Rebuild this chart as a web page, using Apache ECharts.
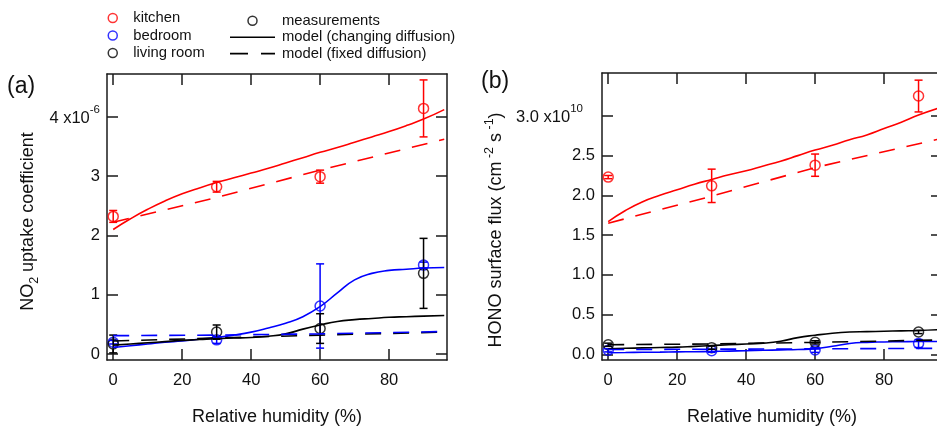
<!DOCTYPE html>
<html><head><meta charset="utf-8">
<script src="https://cdn.jsdelivr.net/npm/echarts@6/dist/echarts.min.js"></script>
<style>html,body{margin:0;padding:0;background:#fff}#c{width:937px;height:427px}</style>
</head><body><div id="c"></div>
<script>
// ---- measurements: relative humidity (%) ----
const rhMeas = [0, 30, 60, 90];
// (a) NO2 uptake coefficient, units of 1e-6
const gammaKitchen    = [2.32, 2.82, 2.99, 4.14];
const gammaKitchenErr = [0.10, 0.09, 0.11, 0.48];
const gammaBedroom    = [0.20, 0.24, 0.81, 1.50];
const gammaBedroomErr = [0.03, 0.06, 0.71, 0.05];
const gammaLiving     = [0.17, 0.37, 0.43, 1.36];
const gammaLivingErr  = [0.15, 0.12, 0.25, 0.59];
// (b) HONO surface flux, units of 1e10 cm^-2 s^-1
const fluxKitchen    = [2.23, 2.12, 2.38, 3.25];
const fluxKitchenErr = [0.02, 0.21, 0.14, 0.20];
const fluxBedroom    = [0.05, 0.045, 0.054, 0.135];
const fluxBedroomErr = [0.02, 0.02, 0.03, 0.05];
const fluxLiving     = [0.12, 0.083, 0.15, 0.28];
const fluxLivingErr  = [0.02, 0.02, 0.02, 0.02];

// ---- model (changing diffusion) ----
const modelRH = [0, 5, 10, 15, 20, 25, 30, 35, 40, 45, 50, 55, 60, 65, 70, 75, 80, 85, 90, 96];
const gammaKitchenModel = [2.10, 2.28, 2.44, 2.58, 2.70, 2.80, 2.89, 2.97, 3.05, 3.13, 3.22, 3.31, 3.40, 3.48, 3.57, 3.66, 3.75, 3.85, 3.96, 4.12];
const gammaBedroomModel = [0.11, 0.14, 0.17, 0.20, 0.22, 0.25, 0.28, 0.32, 0.37, 0.44, 0.52, 0.63, 0.80, 1.03, 1.25, 1.36, 1.41, 1.43, 1.45, 1.46];
const gammaLivingModel  = [0.15, 0.17, 0.19, 0.21, 0.23, 0.245, 0.26, 0.27, 0.28, 0.30, 0.34, 0.42, 0.49, 0.55, 0.58, 0.60, 0.62, 0.63, 0.64, 0.65];
const fluxKitchenModel  = [1.67, 1.81, 1.92, 2.00, 2.07, 2.14, 2.20, 2.26, 2.31, 2.37, 2.43, 2.50, 2.57, 2.63, 2.70, 2.76, 2.84, 2.92, 3.01, 3.10];
const fluxBedroomModel  = [0.02, 0.022, 0.025, 0.027, 0.03, 0.032, 0.035, 0.04, 0.045, 0.05, 0.055, 0.06, 0.07, 0.10, 0.135, 0.15, 0.155, 0.158, 0.16, 0.16];
const fluxLivingModel   = [0.07, 0.075, 0.08, 0.085, 0.09, 0.10, 0.11, 0.12, 0.13, 0.14, 0.165, 0.21, 0.24, 0.265, 0.28, 0.285, 0.29, 0.295, 0.30, 0.31];

// ---- model (fixed diffusion) ----
const fixedRH = [0, 30, 60, 96];
const gammaKitchenFixed = [2.22, 2.64, 3.10, 3.62];
const gammaBedroomFixed = [0.31, 0.32, 0.34, 0.38];
const gammaLivingFixed  = [0.22, 0.27, 0.32, 0.37];
const fluxKitchenFixed  = [1.65, 1.99, 2.35, 2.71];
const fluxBedroomFixed  = [0.06, 0.064, 0.068, 0.075];
const fluxLivingFixed   = [0.12, 0.13, 0.15, 0.18];

// ---- ticks ----
const rhTicks = [0, 20, 40, 60, 80];
const gammaTicks = [0, 1, 2, 3, 4];
const fluxTicks = [0, 0.5, 1, 1.5, 2, 2.5, 3];

const RED = '#ff0000', BLUE = '#0000ff', BLACK = '#000000', AX = '#1a1a1a';
const FONT = 'Liberation Sans, Arial, sans-serif';
const TICK_FS = 16.5, NAME_FS = 18;

const pairs = (xs, ys) => xs.map((x, i) => [x, ys[i]]);
const errs = (ys, es) => rhMeas.map((x, i) => [x, ys[i] - es[i], ys[i] + es[i]]);

function errSeries(name, data, color, g) {
  return {
    type: 'custom', name: name + ' err', xAxisIndex: g * 2, yAxisIndex: g * 2, z: 4, clip: true,
    data: data, encode: { x: 0, y: [1, 2] },
    renderItem: function (params, api) {
      const x = api.value(0), lo = api.value(1), hi = api.value(2);
      const pHi = api.coord([x, hi]), pLo = api.coord([x, lo]);
      const w = 4;
      const st = { stroke: color, lineWidth: 1.5 };
      return { type: 'group', children: [
        { type: 'line', shape: { x1: pHi[0], y1: pHi[1], x2: pLo[0], y2: pLo[1] }, style: st },
        { type: 'line', shape: { x1: pHi[0] - w, y1: pHi[1], x2: pHi[0] + w, y2: pHi[1] }, style: st },
        { type: 'line', shape: { x1: pLo[0] - w, y1: pLo[1], x2: pLo[0] + w, y2: pLo[1] }, style: st }
      ]};
    }
  };
}
function measSeries(name, ys, color, g) {
  return {
    type: 'scatter', name: name, xAxisIndex: g * 2, yAxisIndex: g * 2, z: 3,
    symbol: 'circle', symbolSize: 10,
    itemStyle: { color: 'rgba(0,0,0,0)', borderColor: color, borderWidth: 1.5 },
    data: pairs(rhMeas, ys)
  };
}
function modelSeries(name, xs, ys, color, g, dashed) {
  return {
    type: 'line', name: name, xAxisIndex: g * 2, yAxisIndex: g * 2, z: 5,
    showSymbol: false, symbol: 'none', smooth: dashed ? false : 0.5,
    lineStyle: { color: color, width: 1.6, type: dashed ? [16, 12] : 'solid' },
    data: pairs(xs, ys), silent: true
  };
}

const gridA = { left: 107, top: 74, width: 340, height: 286, outerBoundsMode: 'none', containLabel: false };
const gridB = { left: 602, top: 73, width: 340, height: 287, outerBoundsMode: 'none', containLabel: false };

function xAxes(g) {
  const base = {
    type: 'value', gridIndex: g, min: -1.8, max: 96.8,
    splitLine: { show: false },
    axisLine: { show: true, onZero: false, lineStyle: { color: AX, width: 1.5 } },
    axisTick: { show: true, inside: true, length: 11, customValues: rhTicks, lineStyle: { color: AX, width: 1.5 } }
  };
  return [
    Object.assign({}, base, {
      position: 'bottom',
      axisLabel: { show: true, customValues: rhTicks, margin: 12, color: '#111', fontSize: TICK_FS, fontFamily: FONT },
      name: 'Relative humidity (%)', nameLocation: 'middle', nameGap: 48,
      nameTextStyle: { color: '#111', fontSize: NAME_FS, fontFamily: FONT }
    }),
    Object.assign({}, base, { position: 'top', axisLabel: { show: false } })
  ];
}
function yAxes(g, min, max, ticks, fmt, rich, name, nameRich, gap, shiftPad) {
  const base = {
    type: 'value', gridIndex: g, min: min, max: max,
    splitLine: { show: false },
    axisLine: { show: true, onZero: false, lineStyle: { color: AX, width: 1.5 } },
    axisTick: { show: true, inside: true, length: 11, customValues: ticks, lineStyle: { color: AX, width: 1.5 } }
  };
  return [
    Object.assign({}, base, {
      position: 'left',
      axisLabel: { show: true, customValues: ticks, margin: 7, formatter: fmt, rich: rich, color: '#111', fontSize: TICK_FS, fontFamily: FONT },
      name: name, nameLocation: 'middle', nameGap: gap, nameRotate: 90,
      nameTextStyle: { color: '#111', fontSize: NAME_FS, fontFamily: FONT, rich: nameRich, padding: [0, shiftPad, 0, 0] }
    }),
    Object.assign({}, base, { position: 'right', axisLabel: { show: false } })
  ];
}

const tickRich = {
  m: { fontSize: TICK_FS, fontFamily: FONT, color: '#111', verticalAlign: 'middle', padding: [3, 0, 0, 0] },
  s: { fontSize: 11.5, fontFamily: FONT, color: '#111', verticalAlign: 'middle', padding: [0, 0, 14, 0] },
  s2: { fontSize: 11.5, fontFamily: FONT, color: '#111', verticalAlign: 'middle', padding: [0, 12, 14, 0] }
};
const nameRichA = {
  m: { fontSize: NAME_FS, fontFamily: FONT, color: '#111', verticalAlign: 'middle' },
  sub: { fontSize: 12.5, fontFamily: FONT, color: '#111', verticalAlign: 'middle', padding: [12, 0, 0, 0] }
};
const nameRichB = {
  m: { fontSize: NAME_FS, fontFamily: FONT, color: '#111', verticalAlign: 'middle' },
  sup: { fontSize: 12.5, fontFamily: FONT, color: '#111', verticalAlign: 'middle', padding: [0, 0, 14, 0] }
};

const fmtA = v => v === 4 ? '{m|4 x10}{s|-6}' : '' + v;
const fmtB = v => v === 3 ? '{m|3.0 x10}{s2|10}' : v.toFixed(1);

const legendText = { color: '#111', fontSize: 14.8, fontFamily: FONT };
const circ = c => ({ color: 'rgba(0,0,0,0)', borderColor: c, borderWidth: 1.5 });

const option = {
  animation: false,
  backgroundColor: '#fff',
  title: [
    { text: '(a)', left: 7, top: 75, padding: 0, textStyle: { fontSize: 23, fontWeight: 'normal', color: '#111', fontFamily: FONT } },
    { text: '(b)', left: 481, top: 70, padding: 0, textStyle: { fontSize: 23, fontWeight: 'normal', color: '#111', fontFamily: FONT } }
  ],
  legend: [
    {
      orient: 'vertical', left: 107.5, top: 9.25, padding: 0, itemGap: 0, itemWidth: 31, itemHeight: 9,
      textStyle: Object.assign({ lineHeight: 17.5 }, legendText), selectedMode: false,
      data: [
        { name: 'kitchen', icon: 'circle', itemStyle: circ(RED) },
        { name: 'bedroom', icon: 'circle', itemStyle: circ(BLUE) },
        { name: 'living room', icon: 'circle', itemStyle: circ(BLACK) }
      ]
    },
    {
      orient: 'vertical', left: 230, top: 12.6, padding: 0, itemGap: 0, itemWidth: 45, itemHeight: 9,
      textStyle: Object.assign({ lineHeight: 16.4, padding: [0, 0, 0, 2] }, legendText), selectedMode: false,
      data: [
        { name: 'measurements', icon: 'circle', itemStyle: circ(BLACK) },
        { name: 'model (changing diffusion)', icon: 'path://M0,0h45v1.6h-45z', itemStyle: { color: BLACK, borderWidth: 0 } },
        { name: 'model (fixed diffusion)', icon: 'path://M0,0h18v1.6h-18zM31,0h14v1.6h-14z', itemStyle: { color: BLACK, borderWidth: 0 } }
      ]
    }
  ],
  grid: [gridA, gridB],
  xAxis: [].concat(xAxes(0), xAxes(1)),
  yAxis: [].concat(
    yAxes(0, -0.1, 4.72, gammaTicks, fmtA, tickRich, '{m|NO}{sub|2}{m| uptake coefficient}', nameRichA, 66, 9),
    yAxes(1, -0.072, 3.54, fluxTicks, fmtB, tickRich, '{m|HONO surface flux (cm}{sup| -2}{m| s}{sup| -1}{m|)}', nameRichB, 92, 27)
  ),
  series: [
    // panel (a)
    errSeries('kitchen', errs(gammaKitchen, gammaKitchenErr), RED, 0),
    errSeries('bedroom', errs(gammaBedroom, gammaBedroomErr), BLUE, 0),
    errSeries('living room', errs(gammaLiving, gammaLivingErr), BLACK, 0),
    measSeries('kitchen', gammaKitchen, RED, 0),
    measSeries('bedroom', gammaBedroom, BLUE, 0),
    measSeries('living room', gammaLiving, BLACK, 0),
    modelSeries('a kitchen model', modelRH, gammaKitchenModel, RED, 0, false),
    modelSeries('a bedroom model', modelRH, gammaBedroomModel, BLUE, 0, false),
    modelSeries('a living model', modelRH, gammaLivingModel, BLACK, 0, false),
    modelSeries('a kitchen fixed', fixedRH, gammaKitchenFixed, RED, 0, true),
    modelSeries('a living fixed', fixedRH, gammaLivingFixed, BLACK, 0, true),
    modelSeries('a bedroom fixed', fixedRH, gammaBedroomFixed, BLUE, 0, true),
    // panel (b)
    errSeries('kitchen', errs(fluxKitchen, fluxKitchenErr), RED, 1),
    errSeries('bedroom', errs(fluxBedroom, fluxBedroomErr), BLUE, 1),
    errSeries('living room', errs(fluxLiving, fluxLivingErr), BLACK, 1),
    measSeries('kitchen', fluxKitchen, RED, 1),
    measSeries('bedroom', fluxBedroom, BLUE, 1),
    measSeries('living room', fluxLiving, BLACK, 1),
    modelSeries('b kitchen model', modelRH, fluxKitchenModel, RED, 1, false),
    modelSeries('b bedroom model', modelRH, fluxBedroomModel, BLUE, 1, false),
    modelSeries('b living model', modelRH, fluxLivingModel, BLACK, 1, false),
    modelSeries('b kitchen fixed', fixedRH, fluxKitchenFixed, RED, 1, true),
    modelSeries('b living fixed', fixedRH, fluxLivingFixed, BLACK, 1, true),
    modelSeries('b bedroom fixed', fixedRH, fluxBedroomFixed, BLUE, 1, true),
    // legend-only entries
    { type: 'scatter', name: 'measurements', xAxisIndex: 0, yAxisIndex: 0, data: [], symbol: 'circle',
      itemStyle: circ(BLACK) },
    { type: 'line', name: 'model (changing diffusion)', xAxisIndex: 0, yAxisIndex: 0, data: [], symbol: 'none',
      lineStyle: { color: BLACK, width: 1.6 }, itemStyle: { color: BLACK } },
    { type: 'line', name: 'model (fixed diffusion)', xAxisIndex: 0, yAxisIndex: 0, data: [], symbol: 'none',
      lineStyle: { color: BLACK, width: 1.6, type: [17, 13] }, itemStyle: { color: BLACK } }
  ]
};

const chart = echarts.init(document.getElementById('c'), null, { renderer: 'canvas' });
chart.setOption(option);
</script>
</body></html>
